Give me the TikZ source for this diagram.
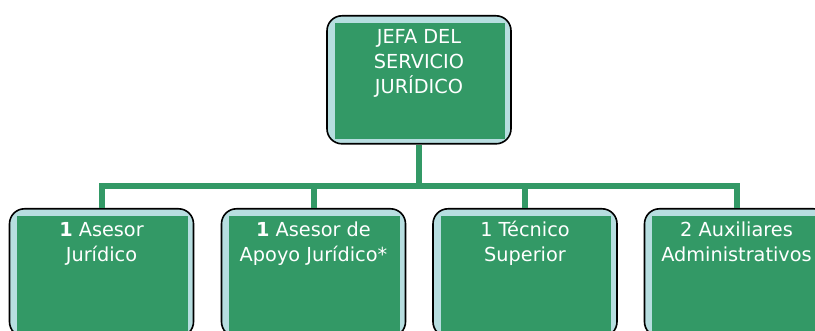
\documentclass[tikz,border=0pt]{standalone}
\usepackage{fontspec}
\newfontfamily\unitfont{DejaVu Sans}
\definecolor{boxgreen}{HTML}{339966}
\definecolor{boxblue}{HTML}{B7DEE0}
\newcommand{\unittext}[1]{\parbox[t][128pt][t]{184pt}{\centering\rule{0pt}{28pt}#1}}
\tikzset{
  unit/.style={draw=black, line width=1.6pt, fill=boxblue, rounded corners=15pt,
    minimum width=184pt, minimum height=128pt, inner sep=0pt, anchor=north,
    text=white, font={\unitfont\fontsize{19.3}{25}\selectfont},
    path picture={\fill[boxgreen, sharp corners] ([xshift=7.5pt,yshift=-7.5pt]path picture bounding box.north west)
      rectangle ([xshift=-6pt,yshift=5pt]path picture bounding box.south east);}},
  conn/.style={draw=boxgreen, line width=6pt}
}
\begin{document}
\begin{tikzpicture}[x=1pt,y=-1pt]
\useasboundingbox (0,0) rectangle (815,331);
\node[unit] (top) at (419,15) {\unittext{JEFA DEL\\SERVICIO\\JURÍDICO}};
\coordinate (bus) at (419,186);
\draw[conn] (top.south) -- (bus);
\node[unit] (b1) at (101.5,208) {\unittext{\textbf{1} Asesor\\Jurídico}};
\node[unit] (b2) at (313.5,208) {\unittext{\textbf{1} Asesor de\\Apoyo Jurídico*}};
\node[unit] (b3) at (525,208) {\unittext{1 Técnico\\Superior}};
\node[unit] (b4) at (736.5,208) {\unittext{2 Auxiliares\\Administrativos}};
\draw[conn] (bus) -| (b1.north);
\draw[conn] (bus) -| (b2.north);
\draw[conn] (bus) -| (b3.north);
\draw[conn] (bus) -| (b4.north);
\end{tikzpicture}
\end{document}
